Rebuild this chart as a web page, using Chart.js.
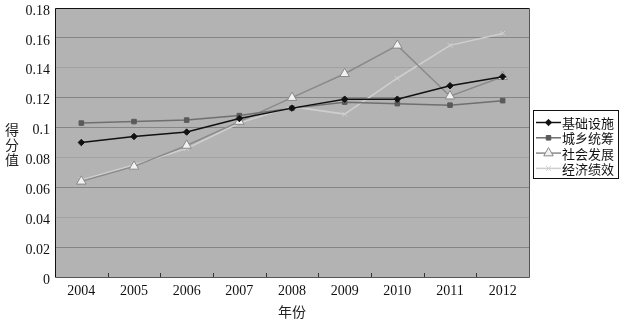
<!DOCTYPE html>
<html>
<head>
<meta charset="utf-8">
<script src="https://cdn.jsdelivr.net/npm/chart.js@4/dist/chart.umd.min.js"></script>
<style>
  html, body { margin: 0; padding: 0; background: #fff; }
  #wrap { position: relative; width: 623px; height: 323px; }
  #yTitle {
    position: absolute; left: 4px; top: 122px; width: 16px;
    font: 14px "Noto Sans CJK SC", sans-serif; line-height: 15px;
    color: #222; text-align: center;
  }
</style>
</head>
<body>
<div id="wrap">
  <canvas id="chart-score" width="623" height="323"></canvas>
  <div id="yTitle">得<br>分<br>值</div>
</div>
<script>
const years = ["2004", "2005", "2006", "2007", "2008", "2009", "2010", "2011", "2012"];
const seriesNames = ["基础设施", "城乡统筹", "社会发展", "经济绩效"];
const infrastructure = [0.090, 0.094, 0.097, 0.106, 0.113, 0.119, 0.119, 0.128, 0.134];
const urbanRural = [0.103, 0.104, 0.105, 0.108, 0.113, 0.117, 0.116, 0.115, 0.118];
const socialDev = [0.064, 0.074, 0.088, 0.104, 0.120, 0.136, 0.155, 0.121, 0.134];
const economicPerf = [0.065, 0.075, 0.086, 0.103, 0.114, 0.109, 0.133, 0.155, 0.163];
const yTicks = [0, 0.02, 0.04, 0.06, 0.08, 0.1, 0.12, 0.14, 0.16, 0.18];

const serif = "'Liberation Serif', 'Times New Roman', serif";
const cjk = "'Noto Sans CJK SC', sans-serif";

// plot background, border and inward x tick marks
const frame = {
  id: "frame",
  beforeDraw(chart) {
    const { ctx, chartArea: a } = chart;
    ctx.save();
    ctx.fillStyle = "#b3b3b3";
    ctx.fillRect(a.left, a.top, a.right - a.left, a.bottom - a.top);
    ctx.restore();
  },
  afterDatasetsDraw(chart) {
    const { ctx, chartArea: a, scales } = chart;
    ctx.save();
    ctx.strokeStyle = "#111";
    ctx.lineWidth = 1;
    ctx.beginPath();
    ctx.moveTo(a.left + 0.5, a.bottom + 0.5);
    ctx.lineTo(a.left + 0.5, a.top + 0.5);
    ctx.lineTo(a.right + 0.5, a.top + 0.5);
    ctx.stroke();
    ctx.strokeStyle = "#555";
    ctx.beginPath();
    ctx.moveTo(a.right + 0.5, a.top + 0.5);
    ctx.lineTo(a.right + 0.5, a.bottom + 0.5);
    ctx.lineTo(a.left + 0.5, a.bottom + 0.5);
    ctx.stroke();
    ctx.strokeStyle = "#333";
    const x = scales.x;
    for (let i = 1; i < years.length; i++) {
      const px = Math.round((x.getPixelForTick(i - 1) + x.getPixelForTick(i)) / 2) + 0.5;
      ctx.beginPath();
      ctx.moveTo(px, a.bottom);
      ctx.lineTo(px, a.bottom - 4);
      ctx.stroke();
    }
    ctx.restore();
  },
};

// boxed legend with line + marker samples
const boxLegend = {
  id: "boxLegend",
  afterDraw(chart) {
    const { ctx } = chart;
    const left = 533, top = 110, w = 85, h = 68;
    ctx.save();
    ctx.fillStyle = "#fff";
    ctx.fillRect(left, top, w, h);
    ctx.strokeStyle = "#111";
    ctx.lineWidth = 1;
    ctx.strokeRect(left + 0.5, top + 0.5, w, h);
    chart.data.datasets.forEach((ds, i) => {
      const y = top + 12.5 + i * 15.3;
      ctx.strokeStyle = ds.borderColor;
      ctx.lineWidth = ds.borderWidth;
      ctx.beginPath();
      ctx.moveTo(left + 3, y);
      ctx.lineTo(left + 28, y);
      ctx.stroke();
      ctx.fillStyle = ds.pointBackgroundColor;
      ctx.strokeStyle = ds.pointBorderColor;
      ctx.lineWidth = 1;
      Chart.helpers.drawPoint(ctx, {
        pointStyle: ds.pointStyle,
        radius: ds.pointRadius,
        rotation: 0,
        borderWidth: 1,
      }, left + 15.5, y);
      ctx.fillStyle = "#111";
      ctx.font = "13px " + cjk;
      ctx.textBaseline = "middle";
      ctx.fillText(ds.label, left + 29, y + 0.5);
    });
    ctx.restore();
  },
};

const makeSeries = (label, data, line, fill, border, style, radius) => ({
  label,
  data,
  borderColor: line,
  borderWidth: 1.5,
  pointStyle: style,
  pointRadius: radius,
  pointBackgroundColor: fill,
  pointBorderColor: border,
  pointBorderWidth: 1,
  tension: 0,
});

new Chart(document.getElementById("chart-score").getContext("2d"), {
  type: "line",
  data: {
    labels: years,
    datasets: [
      makeSeries(seriesNames[0], infrastructure, "#111", "#111", "#111", "rectRot", 3.2),
      makeSeries(seriesNames[1], urbanRural, "#6f6f6f", "#5a5a5a", "#5a5a5a", "rect", 3.2),
      makeSeries(seriesNames[2], socialDev, "#8a8a8a", "#f2f2f2", "#8a8a8a", "triangle", 5.5),
      makeSeries(seriesNames[3], economicPerf, "#cfcfcf", "#cfcfcf", "#cfcfcf", "crossRot", 3.5),
    ],
  },
  options: {
    responsive: false,
    animation: false,
    layout: { padding: { left: 0, right: 94, top: 8, bottom: 0 } },
    plugins: {
      legend: { display: false },
      tooltip: { enabled: false },
    },
    scales: {
      x: {
        offset: true,
        grid: { display: false },
        border: { display: false },
        ticks: {
          color: "#111",
          font: { family: serif, size: 14 },
          padding: -2,
          maxRotation: 0,
        },
        title: {
          display: true,
          text: "年份",
          color: "#222",
          font: { family: cjk, size: 14 },
          padding: { top: 2, bottom: 3 },
        },
        afterFit(scale) { scale.height = 46; },
      },
      y: {
        min: 0,
        max: 0.18,
        afterBuildTicks(scale) { scale.ticks = yTicks.map((v) => ({ value: v })); },
        grid: {
          drawTicks: false,
          color: (c) => {
            const v = Math.round(c.tick.value * 100);
            if (v === 0 || v === 18) return "rgba(0,0,0,0)";
            return [4, 8, 14].includes(v) ? "#a2a2a2" : "#858585";
          },
        },
        border: { display: false },
        ticks: {
          color: "#111",
          font: { family: serif, size: 14 },
          padding: 5,
          labelOffset: 3,
          callback: (v) => String(Math.round(v * 100) / 100),
        },
        afterFit(scale) {
          scale.width = 55;
          scale.paddingTop = 0;
          scale.paddingBottom = 0;
        },
      },
    },
  },
  plugins: [frame, boxLegend],
});
</script>
</body>
</html>
